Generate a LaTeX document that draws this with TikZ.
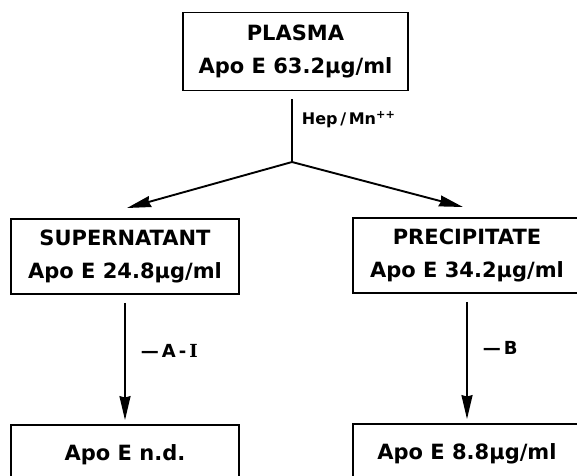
\documentclass[tikz,border=0pt]{standalone}
\usepackage{fontspec}
\setmainfont{DejaVu Sans}
\newfontfamily\romanI{DejaVu Serif}
\usetikzlibrary{arrows.meta}

\begin{document}
\begin{tikzpicture}[x=1pt,y=-1pt,
	box/.style={draw, line width=1.8pt, inner sep=0pt, align=center, minimum width=228pt, font=\bfseries\fontsize{21}{33}\selectfont},
	lbl/.style={font=\bfseries\fontsize{18}{20}\selectfont, inner sep=0pt, right=9pt},
	arr/.style={line width=1.9pt, -{Stealth[length=24pt,width=11pt,inset=1.5pt]}}]
	\useasboundingbox (0,0) rectangle (577,475);

	\node[box, minimum width=225pt, minimum height=78pt] (plasma) at (295.5,51.5) {PLASMA\\Apo E 63.2µg/ml};
	\node[box, minimum height=75pt] (super) at (125,256.5) {SUPERNATANT\\Apo E 24.8µg/ml};
	\node[box, minimum height=75pt] (precip) at (467,255.5) {PRECIPITATE\\Apo E 34.2µg/ml};
	\node[box, minimum height=60pt] (superE) at (125,455) {Apo E n.d.};
	\node[box, minimum height=60pt] (precipE) at (467,454) {Apo E 8.8µg/ml};

	\coordinate (split) at (292,162);
	\coordinate (tipL) at (127,208);
	\coordinate (tipR) at (463,207);

	\draw[line width=1.9pt] ([yshift=-8pt]plasma.south -| split) -- node[lbl, pos=0.32, font=\bfseries\fontsize{16}{18}\selectfont] {Hep\,/\,Mn\textsuperscript{++}} (split);
	\draw[arr] (split) -- (tipL);
	\draw[arr] (split) -- (tipR);

	\draw[arr] ([yshift=-8pt]super.south) -- node[lbl, pos=0.41, right=6pt] {—\,A\,-\,{\romanI I}} ([yshift=4pt]superE.north);
	\draw[arr] ([yshift=-8pt]precip.south) -- node[lbl, pos=0.39, right=6pt] {—\,B} ([yshift=4pt]precipE.north);

\end{tikzpicture}
\end{document}
